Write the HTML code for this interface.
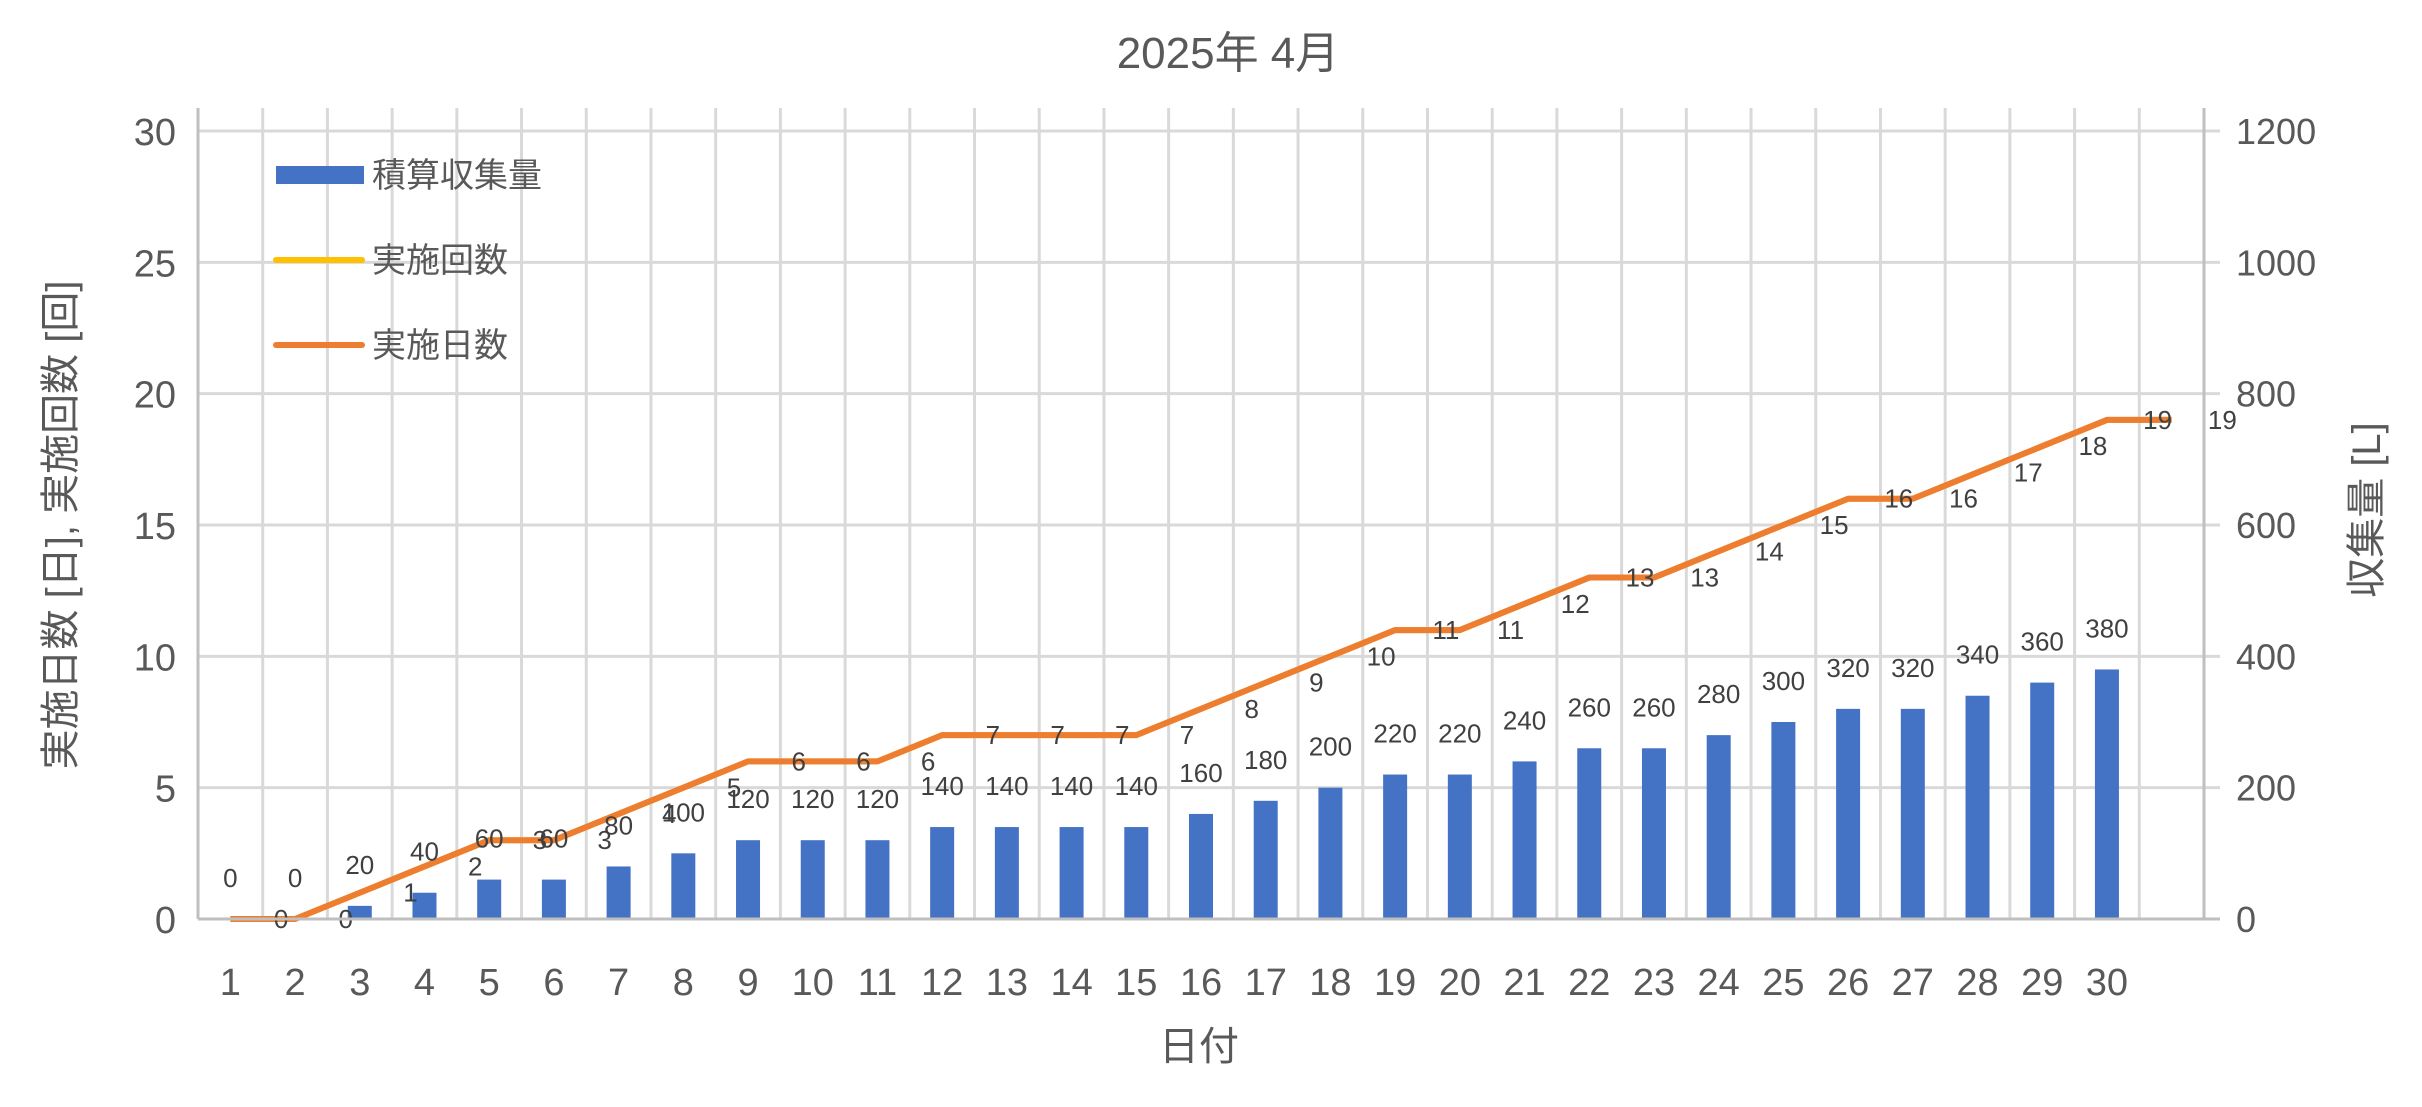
<!DOCTYPE html>
<html><head><meta charset="utf-8"><style>
body{margin:0;background:#fff;}
svg text{font-family:"Liberation Sans","Noto Sans CJK JP",sans-serif;}
</style></head><body>
<svg width="2422" height="1102" viewBox="0 0 2422 1102" xmlns="http://www.w3.org/2000/svg">
<g id="grid"></g>
<g id="bars"></g>
<g id="lines"></g>
<g id="labels"></g>
<g id="axes"></g>
<text x="1228" y="68" font-size="44" fill="#595959" text-anchor="middle">2025年 4月</text>
<text x="1199" y="1060" font-size="40" fill="#595959" text-anchor="middle">日付</text>
<text transform="translate(74,525) rotate(-90)" font-size="40" fill="#595959" text-anchor="middle">実施日数 [日], 実施回数 [回]</text>
<text transform="translate(2380,510) rotate(-90)" font-size="40" fill="#595959" text-anchor="middle">収集量 [L]</text>
<g>
<rect x="276" y="166" width="88" height="18" fill="#4472C4"/>
<text x="372" y="187" font-size="34" fill="#595959">積算収集量</text>
<line x1="276" y1="260" x2="362" y2="260" stroke="#FFC000" stroke-width="6" stroke-linecap="round"/>
<text x="372" y="272" font-size="34" fill="#595959">実施回数</text>
<line x1="276" y1="345" x2="362" y2="345" stroke="#ED7D31" stroke-width="6" stroke-linecap="round"/>
<text x="372" y="357" font-size="34" fill="#595959">実施日数</text>
</g>
</svg>
<script>
const categories = ["1","2","3","4","5","6","7","8","9","10","11","12","13","14","15","16","17","18","19","20","21","22","23","24","25","26","27","28","29","30",""];
const volume = [0,0,20,40,60,60,80,100,120,120,120,140,140,140,140,160,180,200,220,220,240,260,260,280,300,320,320,340,360,380,null];
const days = [0,0,1,2,3,3,4,5,6,6,6,7,7,7,7,8,9,10,11,11,12,13,13,14,15,16,16,17,18,19,19];
const counts = [0,0,1,2,3,3,4,5,6,6,6,7,7,7,7,8,9,10,11,11,12,13,13,14,15,16,16,17,18,19,19];
const leftTicks = [0,5,10,15,20,25,30];
const rightTicks = [0,200,400,600,800,1000,1200];

const NS="http://www.w3.org/2000/svg";
const L=198,R=2204,T=131,B=919;
const band=(R-L)/categories.length;
const xc=i=>L+band*(i+0.5);
const yL=v=>B-(v/30)*(B-T);
const yR=v=>B-(v/1200)*(B-T);
function mk(tag,attrs,parent,txt){const e=document.createElementNS(NS,tag);for(const k in attrs)e.setAttribute(k,attrs[k]);if(txt!==undefined)e.textContent=txt;document.getElementById(parent).appendChild(e);return e;}

leftTicks.forEach(v=>{
  const g=mk('line',{x1:L,x2:R+16,y1:yL(v),y2:yL(v),stroke:'#d9d9d9','stroke-width':3},'grid');
  
  
  const t=mk('text',{x:176,y:yL(v)+14,'font-size':38,fill:'#595959','text-anchor':'end'},'axes',String(v));
  
  
});
rightTicks.forEach(v=>{
  const t=mk('text',{x:2236,y:yR(v)+13,'font-size':36,fill:'#595959','font-family':'DejaVu Sans, sans-serif'},'axes',String(v));
  
  
});
for(let k=1;k<categories.length;k++){
  const g=mk('line',{x1:L+band*k,x2:L+band*k,y1:108,y2:B,stroke:'#d9d9d9','stroke-width':3},'grid');
  
  
}
categories.forEach((c,i)=>{
  if(!c)return;
  const t=mk('text',{x:xc(i),y:995,'font-size':38,fill:'#595959','text-anchor':'middle'},'axes',c);
  
  
});
let a=mk('line',{x1:L,x2:L,y1:108,y2:B,stroke:'#bfbfbf','stroke-width':3},'axes');


a=mk('line',{x1:R,x2:R,y1:108,y2:B,stroke:'#bfbfbf','stroke-width':3},'axes');


a=mk('line',{x1:L,x2:R+16,y1:B,y2:B,stroke:'#bfbfbf','stroke-width':3},'axes');



volume.forEach((v,i)=>{
  if(v===null)return;
  const bw=24;
  if(v>0){
    const r=mk('rect',{x:xc(i)-bw/2,y:yR(v),width:bw,height:B-yR(v),fill:'#4472C4'},'bars');
    
    
  }
  const t=mk('text',{x:xc(i),y:yR(v)-32,'font-size':26,fill:'#404040','text-anchor':'middle','font-family':'DejaVu Sans, sans-serif'},'labels',String(v));
  
  
});
function line(data,color,name){
  const p=mk('polyline',{points:data.map((v,i)=>xc(i)+','+yL(v)).join(' '),fill:'none',stroke:color,'stroke-width':6,'stroke-linejoin':'round'},'lines');
  
  
}
line(counts,'#FFC000','line-count');
line(days,'#ED7D31','line-days');
counts.forEach((v,i)=>{
  const t=mk('text',{x:xc(i)+band-14,y:yL(v)+9,'font-size':26,fill:'#404040','text-anchor':'middle','font-family':'DejaVu Sans, sans-serif'},'labels',String(v));
  
  
});
</script>
</body></html>
